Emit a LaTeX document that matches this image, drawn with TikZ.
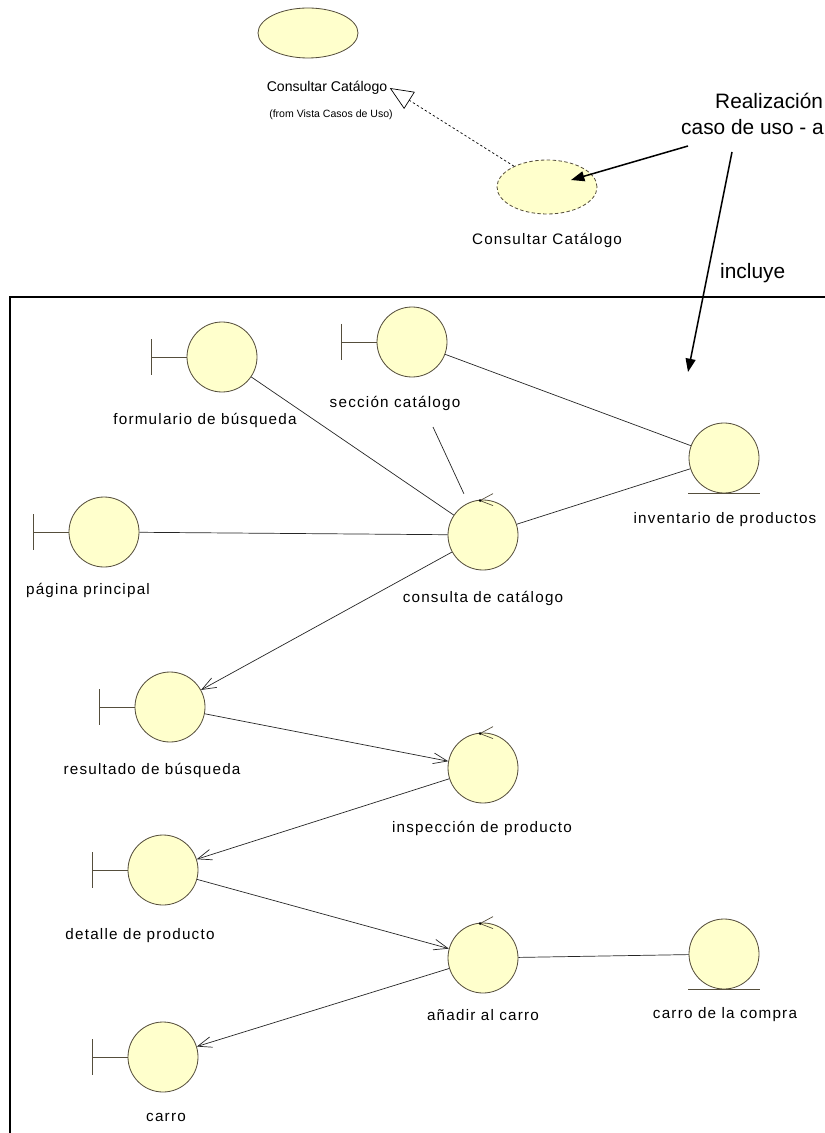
\documentclass[tikz,border=0pt]{standalone}
\usepackage{fontspec}
\setmainfont{Liberation Sans}
\newfontfamily\iconfont[LetterSpace=8]{Liberation Sans}
\usetikzlibrary{arrows.meta,shapes.geometric}
\definecolor{objfill}{RGB}{255,255,204}
\definecolor{objline}{RGB}{85,78,60}

\begin{document}
\begin{tikzpicture}
        [x=0.03cm, y=-0.03cm,
         obj/.style={circle, draw=objline, fill=objfill, line width=0.7pt,
                     minimum size=2.1cm, inner sep=0pt},
         uc/.style={ellipse, draw=objline, fill=objfill, line width=0.7pt,
                    minimum width=3cm, minimum height=1.5cm, inner sep=0pt},
         lbl/.style={font=\iconfont\fontsize{13pt}{15pt}\selectfont, inner sep=0pt},
         note/.style={font=\fontsize{17.8pt}{21pt}\selectfont, inner sep=0pt, anchor=west},
         link/.style={draw=black!85, line width=0.6pt},
         flow/.style={link, -{Straight Barb[length=0.42cm, width=0.32cm]}},
         pointer/.style={line width=1.3pt, -{Triangle[length=0.4cm, width=0.3cm]}}]
        \useasboundingbox (0,0) rectangle (825,1133);

        % caso de uso y su realizacion
        \node[uc] (uccaso) at (308,33) {};
        \node[font=\fontsize{12pt}{14pt}\selectfont, inner sep=0pt] (uccaso-l) at (327,88) {Consultar Catálogo};
        \node[font=\fontsize{9pt}{11pt}\selectfont, inner sep=0pt] (uccaso-f) at (331,115) {(from Vista Casos de Uso)};
        \node[uc, dash pattern=on 3pt off 2pt, minimum height=1.62cm] (ucreal) at (547,187) {};
        \node[lbl] (ucreal-l) at (547,240) {Consultar Catálogo};
        \draw[dash pattern=on 2pt off 2pt, line width=0.6pt,
              -{Triangle[open, length=0.7cm, width=0.6cm]}] (ucreal) -- ([xshift=2]uccaso-l.east);

        % notas
        \node[note] (realiz) at (715,101) {Realización};
        \node[note] (caso) at (681,127) {caso de uso - a};
        \node[note] (incl) at (720,273) {incluye};
        \coordinate (casoA) at (688,146);
        \coordinate (casoB) at (732,152);
        \coordinate (inclEnd) at (688,372);
        \draw[pointer, shorten >=0.75cm] (casoA) -- (ucreal.center);
        \draw[pointer] (casoB) -- (inclEnd);

        % marco
        \draw[line width=1.6pt] (10,1140) -- (10,297) -- (840,297);

        % objetos de analisis
        \node[obj] (seccion) at (412,342) {};
        \node[obj] (formulario) at (222,357) {};
        \node[obj] (pagina) at (104,532) {};
        \node[obj] (consulta) at (483,535) {};
        \node[obj] (inventario) at (724,458) {};
        \node[obj] (resultado) at (170,707) {};
        \node[obj] (inspeccion) at (483,768) {};
        \node[obj] (detalle) at (163,870) {};
        \node[obj] (anadir) at (483,958) {};
        \node[obj] (carrocompra) at (724,954) {};
        \node[obj] (carro) at (163,1057) {};

        \node[lbl] (seccion-l) at (395,403) {sección catálogo};
        \node[lbl] (formulario-l) at (205,420) {formulario de búsqueda};
        \node[lbl] (pagina-l) at (88,590) {página principal};
        \node[lbl] (consulta-l) at (483,598) {consulta de catálogo};
        \node[lbl] (inventario-l) at (725,520) {inventario de productos};
        \node[lbl] (resultado-l) at (152,770) {resultado de búsqueda};
        \node[lbl] (inspeccion-l) at (482,828) {inspección de producto};
        \node[lbl] (detalle-l) at (140,936) {detalle de producto};
        \node[lbl] (anadir-l) at (483,1015) {añadir al carro};
        \node[lbl] (carrocompra-l) at (725,1015) {carro de la compra};
        \node[lbl] (carro-l) at (166,1117) {carro};

        % boundary, control, entity
        \foreach \n in {seccion, formulario, pagina, resultado, detalle, carro}
            \draw[objline, line width=0.7pt] (\n.west) -- ++(-35,0) ++(0,-18) -- ++(0,36);
        \foreach \n in {consulta, inspeccion, anadir} {
            \draw[objline, line width=0.6pt] ([shift={(10,-6)}]\n.north)
                -- ([shift={(-3,1)}]\n.north) -- ([shift={(10,6)}]\n.north);
            \fill[black] ([shift={(-3,1)}]\n.north) circle (1.2pt);
        }
        \foreach \n in {inventario, carrocompra}
            \draw[objline, line width=0.7pt] (\n.south) ++(-36,0) -- ++(72,0);

        % enlaces
        \coordinate (seccion-c) at (433,427);
        \draw[link] (seccion) -- (inventario);
        \draw[link] (formulario) -- (consulta);
        \draw[link, shorten >=0.3cm] (seccion-c) -- (consulta);
        \draw[link] (pagina) -- (consulta);
        \draw[link] (consulta) -- (inventario);
        \draw[flow] (consulta) -- (resultado);
        \draw[flow] (resultado) -- (inspeccion);
        \draw[flow] (inspeccion) -- (detalle);
        \draw[flow] (detalle) -- (anadir);
        \draw[flow] (anadir) -- (carro);
        \draw[link] (anadir) -- (carrocompra);
\end{tikzpicture}
\end{document}
